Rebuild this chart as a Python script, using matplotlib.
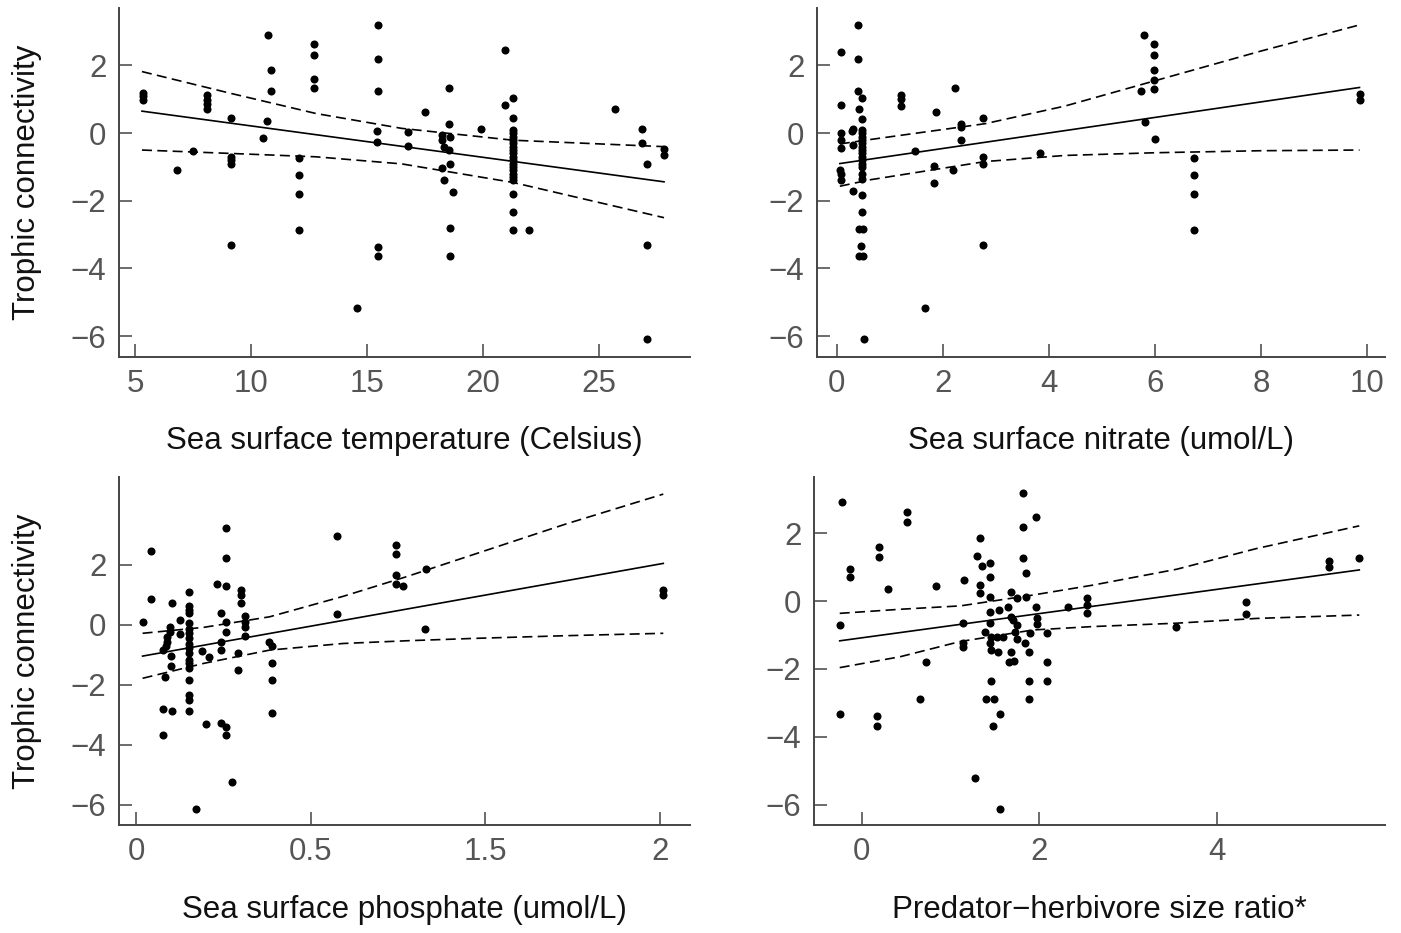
import matplotlib
matplotlib.use("Agg")
import matplotlib.pyplot as plt
import numpy as np

# ---------------- data ----------------
y_label = "Trophic connectivity"

# Panel 1: sea surface temperature
temp_label = "Sea surface temperature (Celsius)"
temp_x = [5.35, 5.35, 5.35, 6.80, 7.49, 8.09, 8.09, 8.09, 8.09,
          9.14, 9.14, 9.14, 9.14, 9.14, 10.50, 10.68, 10.75, 10.86, 10.88,
          12.08, 12.08, 12.08, 12.08, 12.72, 12.72, 12.72, 12.72, 14.58,
          15.49, 15.49, 15.49, 15.45, 15.45, 15.49, 15.49, 16.78, 16.78, 17.50,
          18.55, 18.55, 18.22, 18.22, 18.30, 18.58, 18.55, 18.58, 18.22, 18.30,
          18.72, 18.58, 18.58, 19.90, 20.94, 20.94, 21.30,
          21.30, 21.30, 21.30, 21.30, 21.30, 21.30, 21.30, 21.30, 21.30, 21.30,
          21.30, 21.30, 21.30, 21.30, 21.30, 21.30, 21.30, 21.30, 21.30, 21.30,
          21.97, 25.70, 26.85, 26.85, 27.05, 27.05, 27.05, 27.80, 27.80]
temp_y = [1.20, 1.10, 0.98, -1.08, -0.53, 1.12, 0.98, 0.85, 0.72,
          0.45, -0.70, -0.80, -0.92, -3.31, -0.15, 0.35, 2.90, 1.87, 1.26,
          -0.74, -1.23, -1.79, -2.87, 2.63, 2.32, 1.60, 1.33, -5.16,
          3.19, 2.18, 1.26, 0.07, -0.25, -3.36, -3.64, 0.02, -0.37, 0.62,
          1.32, 0.26, -0.06, -0.20, -0.40, -0.11, -0.50, -0.91, -1.04, -1.38,
          -1.73, -2.82, -3.64, 0.13, 2.46, 0.82, 1.05,
          0.45, 0.10, 0.00, -0.10, -0.20, -0.30, -0.40, -0.50, -0.60, -0.70,
          -0.80, -0.90, -1.00, -1.10, -1.20, -1.30, -1.40, -1.79, -2.33, -2.86,
          -2.86, 0.72, 0.13, -0.30, -0.91, -3.31, -6.09, -0.47, -0.66]
temp_fit_x = [5.3, 27.8]
temp_fit_y = [0.65, -1.44]
temp_ci_x = [5.3, 9.1, 12.8, 16.5, 21.3, 27.8]
temp_ci_lo = [-0.50, -0.60, -0.70, -0.91, -1.46, -2.50]
temp_ci_hi = [1.82, 1.18, 0.58, 0.14, -0.21, -0.40]
temp_xticks = [5, 10, 15, 20, 25]
temp_xticklabels = ["5", "10", "15", "20", "25"]

# Panel 2: sea surface nitrate
nit_label = "Sea surface nitrate (umol/L)"
nit_x = [0.40, 0.08, 0.40, 0.40, 0.48, 0.08, 0.42, 0.48, 0.31,
         0.09, 0.09, 0.09,
         0.47, 0.47, 0.47, 0.47, 0.47, 0.47, 0.47, 0.47, 0.47, 0.47, 0.47, 0.47, 0.47, 0.47,
         0.31, 0.28, 0.06, 0.08, 0.09, 0.31, 0.48, 0.48, 0.42, 0.50,
         0.45, 0.42, 0.50, 0.51,
         1.22, 1.22, 1.22, 1.48, 1.88, 1.83, 1.83, 1.67,
         2.23, 2.34, 2.34, 2.34, 2.19, 2.75, 2.75, 2.75, 2.75, 3.83,
         5.79, 5.97, 5.97, 5.97, 5.97, 5.97, 5.74, 5.81, 6.00,
         6.74, 6.74, 6.74, 6.74, 9.86, 9.86]
nit_y = [3.19, 2.41, 2.18, 1.26, 1.05, 0.84, 0.72, 0.43, 0.12,
         -0.01, -0.20, -0.45,
         0.10, 0.00, -0.10, -0.20, -0.30, -0.40, -0.50, -0.60, -0.70, -0.80, -0.90, -1.00, -1.20, -1.35,
         -0.35, 0.05, -1.08, -1.20, -1.38, -1.72, -1.82, -2.33, -2.84, -2.84,
         -3.33, -3.63, -3.63, -6.09,
         1.13, 1.00, 0.80, -0.53, 0.62, -0.96, -1.46, -5.16,
         1.33, 0.28, 0.18, -0.19, -1.08, 0.46, -0.72, -0.92, -3.31, -0.58,
         2.91, 2.63, 2.31, 1.87, 1.58, 1.31, 1.26, 0.33, -0.16,
         -0.75, -1.24, -1.79, -2.87, 1.16, 0.99]
nit_fit_x = [0.06, 9.85]
nit_fit_y = [-0.90, 1.35]
nit_ci_x = [0.06, 0.63, 2.8, 4.3, 6.0, 8.0, 9.85]
nit_ci_lo = [-1.57, -1.38, -0.84, -0.66, -0.58, -0.52, -0.50]
nit_ci_hi = [-0.32, -0.19, 0.28, 0.80, 1.55, 2.43, 3.20]
nit_xticks = [0, 2, 4, 6, 8, 10]
nit_xticklabels = ["0", "2", "4", "6", "8", "10"]

# Panel 3: sea surface phosphate
phos_label = "Sea surface phosphate (umol/L)"
phos_x = [0.028, 0.056, 0.056, 0.104, 0.110, 0.104, 0.104, 0.136,
          0.130, 0.130, 0.120, 0.120, 0.115, 0.135, 0.135, 0.139, 0.168, 0.168,
          0.202, 0.202, 0.202, 0.202, 0.202, 0.202, 0.202, 0.202, 0.202,
          0.202, 0.202, 0.202, 0.202, 0.202, 0.202, 0.202, 0.202, 0.202,
          0.229, 0.250, 0.266, 0.280, 0.308, 0.324, 0.324, 0.324, 0.324,
          0.344, 0.344, 0.344, 0.344, 0.344, 0.344, 0.344, 0.365, 0.388, 0.388,
          0.400, 0.400, 0.400, 0.416, 0.416, 0.416, 0.416,
          0.509, 0.520, 0.520, 0.520, 0.520, 0.768, 0.768,
          0.992, 0.992, 0.992, 0.992, 1.020, 1.107, 1.103, 2.013, 2.013]
phos_y = [0.10, 2.47, 0.86, -0.84, -1.73, -2.81, -3.67, -2.86,
          -0.06, -0.23, -0.40, -0.56, -0.70, -1.03, -1.37, 0.74, 0.16, -0.31,
          1.10, 0.63, 0.49, 0.40, 0.05, -0.12, -0.28, -0.45, -0.62,
          -0.78, -0.95, -1.17, -1.28, -1.45, -1.82, -2.34, -2.51, -2.86,
          -6.14, -0.86, -3.31, -1.06, 1.35, 0.40, -0.56, -0.84, -3.28,
          3.22, 2.22, 1.29, 0.10, -0.25, -3.40, -3.67, -5.23, -0.95, -1.51,
          1.18, 0.99, 0.72, 0.30, 0.10, -0.06, -0.36,
          -0.56, -0.70, -1.26, -1.82, -2.92, 2.97, 0.36,
          2.66, 2.36, 1.66, 1.35, 1.29, 1.85, -0.14, 1.16, 0.99]
phos_fit_x = [0.025, 2.013]
phos_fit_y = [-1.04, 2.05]
phos_ci_x = [0.025, 0.26, 0.51, 0.79, 1.03, 1.29, 1.64, 2.013]
phos_ci_lo = [-1.78, -1.28, -0.84, -0.62, -0.53, -0.45, -0.36, -0.28]
phos_ci_hi = [-0.28, -0.08, 0.27, 0.95, 1.60, 2.35, 3.36, 4.36]
phos_xticks = [0, 0.667, 1.333, 2.0]
phos_xticklabels = ["0", "0.5", "1.5", "2"]

# Panel 4: predator-herbivore size ratio
size_label = "Predator\u2212herbivore size ratio*"
size_x = [-0.22, -0.13, -0.13, -0.25, -0.25, 0.19, 0.19, 0.29, 0.17, 0.17,
          0.51, 0.51, 0.84, 0.72, 0.66, 1.15, 1.14, 1.14, 1.14,
          1.33, 1.30, 1.35, 1.45, 1.45, 1.33, 1.33, 1.45, 1.45, 1.45, 1.39,
          1.46, 1.52, 1.59, 1.45, 1.46, 1.54, 1.46, 1.40, 1.49, 1.56, 1.48, 1.28, 1.56,
          1.55, 1.65, 1.68, 1.75, 1.68, 1.70, 1.75, 1.73, 1.75, 1.68, 1.66, 1.72,
          1.82, 1.82, 1.82, 1.85, 1.85, 1.96, 1.96, 1.97, 1.97, 1.90, 1.84, 1.89,
          1.89, 1.89, 2.09, 2.09, 2.09, 2.33, 2.54, 2.54, 2.54,
          3.54, 4.33, 4.33, 5.27, 5.27, 5.61]
size_y = [2.92, 0.95, 0.72, -0.70, -3.34, 1.61, 1.31, 0.35, -3.39, -3.67,
          2.64, 2.32, 0.45, -1.80, -2.89, 0.63, -0.65, -1.24, -1.36,
          1.87, 1.33, 1.05, 1.12, 0.72, 0.48, 0.23, 0.13, -0.31, -0.65, -0.92,
          -1.05, -1.05, -1.05, -1.24, -1.44, -1.49, -2.35, -2.89, -2.89, -3.34, -3.67, -5.20, -6.13,
          -0.26, -0.16, 0.28, 0.09, -0.46, -0.56, -0.70, -0.90, -1.12, -1.49, -1.80, -1.76,
          3.20, 2.20, 1.27, 0.82, 0.11, 2.47, -0.16, -0.51, -0.67, -0.93, -1.24, -1.49,
          -2.35, -2.89, -0.93, -1.80, -2.35, -0.16, 0.09, -0.11, -0.36,
          -0.75, -0.04, -0.39, 1.19, 1.02, 1.27]
size_fit_x = [-0.25, 5.61]
size_fit_y = [-1.17, 0.92]
size_ci_x = [-0.25, 0.43, 1.11, 1.93, 2.6, 3.55, 4.45, 5.61]
size_ci_lo = [-1.96, -1.64, -1.19, -0.85, -0.75, -0.65, -0.51, -0.41]
size_ci_hi = [-0.36, -0.24, -0.14, 0.18, 0.47, 0.94, 1.55, 2.22]
size_xticks = [0, 2, 4]
size_xticklabels = ["0", "2", "4"]

y_ticks = [-6, -4, -2, 0, 2]
y_ticklabels = ["\u22126", "\u22124", "\u22122", "0", "2"]

# ---------------- figure ----------------
plt.rcParams["font.family"] = ["Liberation Sans", "DejaVu Sans"]
W, H = 1401, 933
fig = plt.figure(figsize=(W / 100, H / 100), dpi=100)

spine_col = "#444444"
tick_col = "#555555"
FS = 22.5
DASH = (0, (6.0, 3.2))


def make_axes(px_left, px_right, px_top, px_bottom):
    return fig.add_axes([px_left / W, 1 - px_bottom / H,
                         (px_right - px_left) / W, (px_bottom - px_top) / H])


panels = [
    dict(box=(119, 690, 8, 357), lab_y=441, x=temp_x, y=temp_y, fx=temp_fit_x, fy=temp_fit_y,
         cx=temp_ci_x, lo=temp_ci_lo, hi=temp_ci_hi, xt=temp_xticks, xtl=temp_xticklabels,
         xlim=(4.31, 28.92), ylim=(-6.62, 3.70), xl=temp_label, yl=True),
    dict(box=(817, 1385, 8, 357), lab_y=441, x=nit_x, y=nit_y, fx=nit_fit_x, fy=nit_fit_y,
         cx=nit_ci_x, lo=nit_ci_lo, hi=nit_ci_hi, xt=nit_xticks, xtl=nit_xticklabels,
         xlim=(-0.37, 10.33), ylim=(-6.62, 3.70), xl=nit_label, yl=False),
    dict(box=(119, 690, 477, 825), lab_y=910, x=phos_x, y=phos_y, fx=phos_fit_x, fy=phos_fit_y,
         cx=phos_ci_x, lo=phos_ci_lo, hi=phos_ci_hi, xt=phos_xticks, xtl=phos_xticklabels,
         xlim=(-0.065, 2.115), ylim=(-6.67, 4.93), xl=phos_label, yl=True),
    dict(box=(814, 1385, 477, 825), lab_y=910, x=size_x, y=size_y, fx=size_fit_x, fy=size_fit_y,
         cx=size_ci_x, lo=size_ci_lo, hi=size_ci_hi, xt=size_xticks, xtl=size_xticklabels,
         xlim=(-0.54, 5.90), ylim=(-6.60, 3.66), xl=size_label, yl=False),
]

for p in panels:
    l, r, t, b = p["box"]
    ax = make_axes(l, r, t, b)
    ax.plot(p["x"], p["y"], "o", color="black", ms=5.8, mew=0, zorder=3)
    ax.plot(p["fx"], p["fy"], "-", color="black", lw=1.2, zorder=2)
    ax.plot(p["cx"], p["lo"], color="black", lw=1.2, ls=DASH, zorder=2)
    ax.plot(p["cx"], p["hi"], color="black", lw=1.2, ls=DASH, zorder=2)
    ax.set_xlim(*p["xlim"])
    ax.set_ylim(*p["ylim"])
    ax.set_xticks(p["xt"])
    ax.set_xticklabels(p["xtl"])
    ax.set_yticks(y_ticks)
    ax.set_yticklabels(y_ticklabels)
    for s in ["top", "right"]:
        ax.spines[s].set_visible(False)
    for s in ["left", "bottom"]:
        ax.spines[s].set_color(spine_col)
        ax.spines[s].set_linewidth(1.4)
    ax.tick_params(direction="in", length=9.5, width=1.1, color=spine_col,
                   labelcolor=tick_col, labelsize=FS, pad=9)
    ax.set_xlabel(p["xl"], fontsize=FS, color="#111111")
    ax.xaxis.label.set_va("center")
    ax.xaxis.set_label_coords(0.5, (b - p["lab_y"]) / (b - t))
    if p["yl"]:
        ax.set_ylabel(y_label, fontsize=FS, color="#111111")
        ax.yaxis.label.set_va("center")
        ax.yaxis.set_label_coords((27 - l) / (r - l), 0.5)

fig.savefig("out.png", dpi=100)
